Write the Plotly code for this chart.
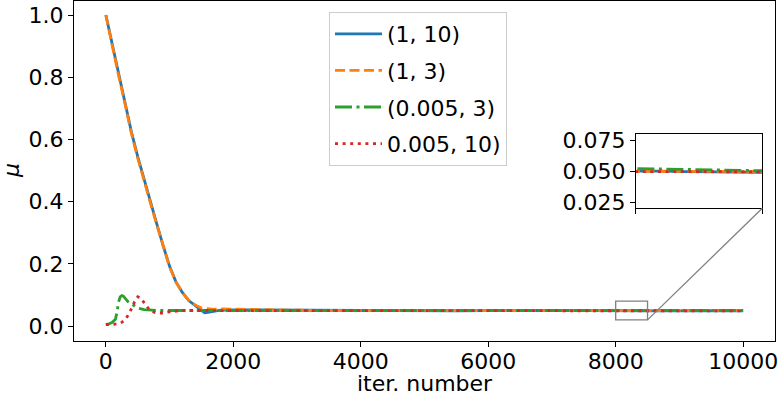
import plotly.graph_objects as go

# ---------------- data ----------------
labels = ["(1, 10)", "(1, 3)", "(0.005, 3)", "0.005, 10)"]

x_late = [2500, 3000, 3500, 4000, 4500, 5000, 5500, 6000, 6500, 7000, 7500,
          8000, 8100, 8200, 8300, 8400, 8500, 9000, 9500, 10000]

x_blue = [0, 100, 200, 300, 400, 500, 600, 700, 800, 900, 1000, 1100, 1200,
          1300, 1400, 1500, 1550, 1600, 1700, 1800, 2000] + x_late
y_blue = [1.0, 0.905, 0.81, 0.72, 0.625, 0.545, 0.47, 0.40, 0.328, 0.258, 0.192,
          0.142, 0.108, 0.082, 0.066, 0.050, 0.043, 0.044, 0.048, 0.051, 0.052,
          0.051, 0.050, 0.049, 0.050, 0.050, 0.049, 0.049, 0.050, 0.049, 0.050,
          0.050, 0.0505, 0.0502, 0.0498, 0.0494, 0.0492, 0.0491, 0.049, 0.050, 0.049]

x_orange = [0, 100, 200, 300, 400, 500, 600, 700, 800, 900, 1000, 1100, 1200,
            1300, 1400, 1500, 1600, 1700, 1800, 2000] + x_late
y_orange = [1.0, 0.90, 0.805, 0.715, 0.62, 0.54, 0.465, 0.395, 0.325, 0.255, 0.19,
            0.142, 0.108, 0.083, 0.068, 0.058, 0.055, 0.054, 0.055, 0.054,
            0.052, 0.051, 0.050, 0.050, 0.051, 0.050, 0.050, 0.049, 0.050, 0.050,
            0.050, 0.0500, 0.0501, 0.0500, 0.0502, 0.0503, 0.0504, 0.050, 0.050, 0.050]

x_green = [0, 50, 100, 150, 175, 200, 225, 250, 275, 300, 350, 400, 450, 500,
           600, 700, 800, 1000, 1200, 1500, 2000] + x_late
y_green = [0.005, 0.007, 0.012, 0.022, 0.045, 0.078, 0.094, 0.098, 0.096, 0.090,
           0.078, 0.072, 0.064, 0.058, 0.053, 0.051, 0.050, 0.050, 0.050, 0.051, 0.051,
           0.051, 0.051, 0.050, 0.051, 0.050, 0.050, 0.051, 0.050, 0.051, 0.051,
           0.051, 0.0522, 0.0518, 0.0514, 0.0510, 0.0507, 0.0505, 0.050, 0.050, 0.050]

x_red = [0, 100, 200, 250, 300, 350, 400, 450, 500, 550, 600, 650, 700, 800,
         900, 1000, 1100, 1200, 1500, 2000] + x_late
y_red = [0.005, 0.005, 0.008, 0.012, 0.020, 0.035, 0.055, 0.078, 0.094, 0.090,
         0.075, 0.060, 0.048, 0.042, 0.042, 0.046, 0.049, 0.050, 0.050, 0.050,
         0.050, 0.049, 0.050, 0.050, 0.049, 0.050, 0.050, 0.049, 0.050, 0.050,
         0.050, 0.0500, 0.0499, 0.0498, 0.0497, 0.0497, 0.0496, 0.049, 0.050, 0.049]

series_x = [x_blue, x_orange, x_green, x_red]
series_y = [y_blue, y_orange, y_green, y_red]

x_ticks = [0, 2000, 4000, 6000, 8000, 10000]
x_tick_labels = ["0", "2000", "4000", "6000", "8000", "10000"]
y_ticks = [0.0, 0.2, 0.4, 0.6, 0.8, 1.0]
inset_y_ticks = [0.025, 0.050, 0.075]
zoom_x = [8000, 8500]
zoom_y = [0.02, 0.08]
x_title = "iter. number"
y_title = "<i>μ</i>"

# ---------------- styling ----------------
colors = ["#1f77b4", "#ff7f0e", "#2ca02c", "#d62728"]
dashes = ["solid", "10px,4.5px", "17px,4.5px,3px,4.5px", "3px,4.6px"]
LW = 2.8
FONT = "DejaVu Sans"
FS = 22

main_range_x = [-500, 10500]
main_range_y = [-0.048, 1.045]
inset_dom_x = [0.8017, 0.9819]
inset_dom_y = [0.3903, 0.6079]

fig = go.Figure()
for i in range(4):
    fig.add_trace(go.Scatter(
        x=series_x[i], y=series_y[i], mode="lines", name=labels[i],
        line=dict(color=colors[i], width=LW, dash=dashes[i]),
        legendgroup=f"g{i}", xaxis="x", yaxis="y"))
for i in range(4):
    fig.add_trace(go.Scatter(
        x=series_x[i], y=series_y[i], mode="lines", showlegend=False,
        line=dict(color=colors[i], width=LW, dash=dashes[i]),
        xaxis="x2", yaxis="y2"))

axis_common = dict(showline=True, mirror=True, linecolor="black", linewidth=1,
                   ticks="outside", ticklen=5, tickwidth=1, tickcolor="black",
                   showgrid=False, zeroline=False, automargin=False,
                   ticklabeloverflow="allow",
                   tickfont=dict(family=FONT, size=FS, color="black"))
x_axis_style = dict(axis_common, ticklabelstandoff=-4)

fig.update_layout(
    width=778, height=397,
    margin=dict(l=74, r=3, t=1, b=56),
    paper_bgcolor="white", plot_bgcolor="white",
    font=dict(family=FONT, size=FS, color="black"),
    xaxis=dict(range=main_range_x, tickvals=x_ticks, ticktext=x_tick_labels, domain=[0, 1],
               **x_axis_style),
    yaxis=dict(range=main_range_y, tickvals=y_ticks, tickformat=".1f", domain=[0, 1],
               **axis_common),
    xaxis2=dict(range=zoom_x, tickvals=zoom_x, showticklabels=False,
                domain=inset_dom_x, anchor="y2", **axis_common),
    yaxis2=dict(range=zoom_y, tickvals=inset_y_ticks, tickformat=".3f",
                domain=inset_dom_y, anchor="x2", **axis_common),
    legend=dict(x=(329 - 74) / 701, y=(341 - 12) / 340, xanchor="left", yanchor="top",
                bgcolor="rgba(255,255,255,0.8)", bordercolor="#cccccc", borderwidth=1,
                font=dict(family=FONT, size=FS, color="black"),
                tracegroupgap=5, itemwidth=47),
)

# axis titles as annotations
fig.add_annotation(text=x_title, xref="paper", yref="paper", x=0.5,
                   y=(341 - 397) / 340, xanchor="center", yanchor="bottom",
                   borderpad=0, showarrow=False,
                   font=dict(family=FONT, size=FS, color="black"))
fig.add_annotation(text=y_title, xref="paper", yref="paper", x=(11 - 74) / 701,
                   y=0.5, xanchor="center", yanchor="middle", textangle=-90,
                   borderpad=0, showarrow=False,
                   font=dict(family=FONT, size=FS, color="black"))

# zoom rectangle in main axes
fig.add_shape(type="rect", xref="x", yref="y", x0=zoom_x[0], x1=zoom_x[1],
              y0=zoom_y[0], y1=zoom_y[1], line=dict(color="#808080", width=1.3))

# connector line: from rectangle bottom-right corner to inset bottom-right corner
px = (zoom_x[1] - main_range_x[0]) / (main_range_x[1] - main_range_x[0])
py = (zoom_y[0] - main_range_y[0]) / (main_range_y[1] - main_range_y[0])
fig.add_shape(type="line", xref="paper", yref="paper", x0=px, y0=py,
              x1=inset_dom_x[1], y1=inset_dom_y[0],
              line=dict(color="#808080", width=1.3))

fig.write_html("out.html")
